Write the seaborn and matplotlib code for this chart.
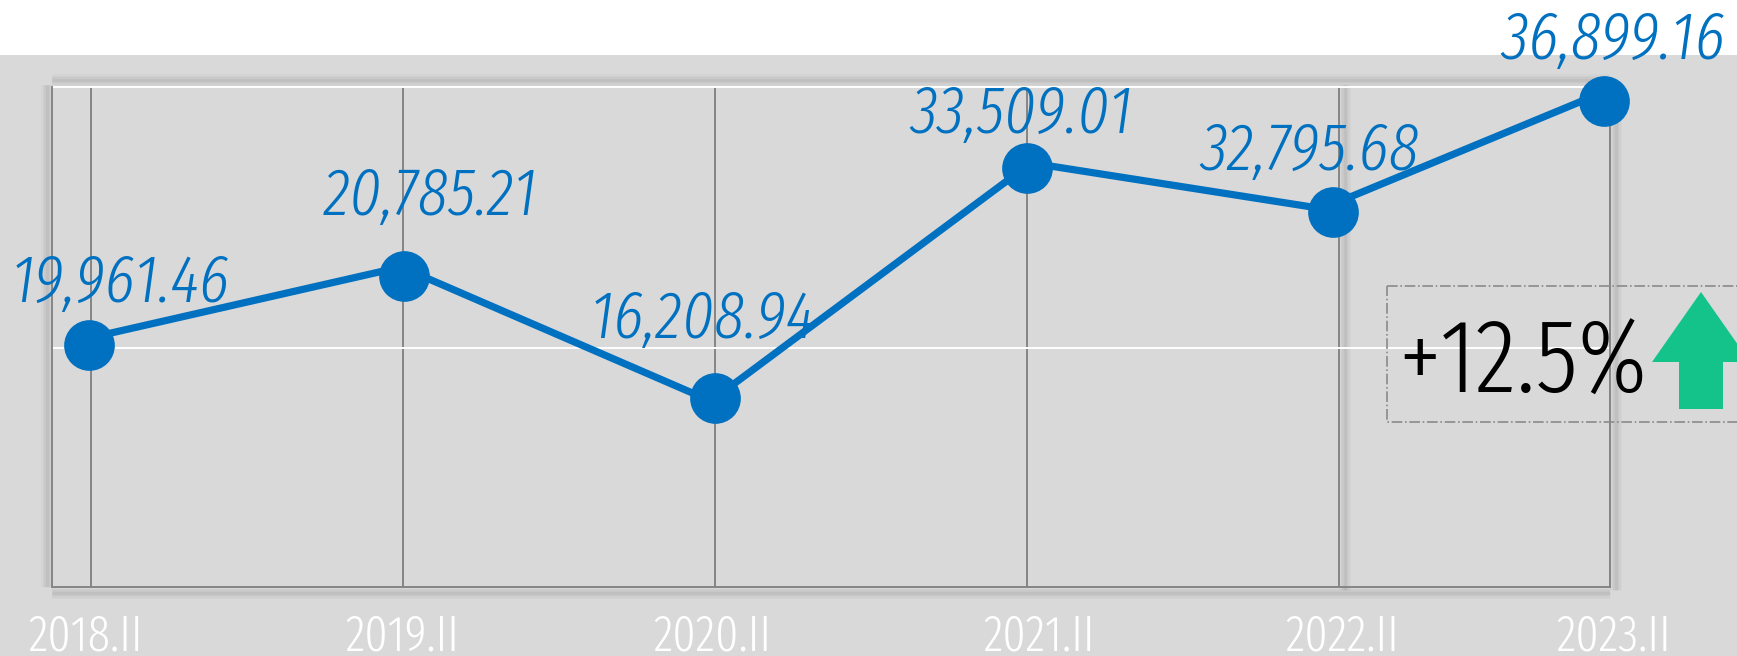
import matplotlib
matplotlib.use("Agg")
import matplotlib.pyplot as plt
from matplotlib.patches import Polygon, Rectangle
from matplotlib.transforms import Affine2D, ScaledTranslation
import seaborn as sns

# periods and the printed values
periods = ["2018.II", "2019.II", "2020.II", "2021.II", "2022.II", "2023.II"]
printed_values = [19961.46, 20785.21, 16208.94, 33509.01, 32795.68, 36899.16]
change_label = "+12.5%"

# the drawn marks do not follow the printed numbers,
# and the line runs a little off the marker centres
marker_pos = [-0.006, 1.003, 2.0, 3.0, 3.98, 4.85]
marker_height = [19360, 24880, 15120, 33520, 30000, 38880]
line_pos = [-0.006, 0.994, 1.987, 3.013, 3.946, 4.846]
line_height = [19920, 25600, 14880, 33920, 30272, 39568]
period_pos = [0, 1, 2, 3, 4, 4.869]
white_lines = [19120, 40000]

W, H = 1737, 656
BG = "#D9D9D9"
BLUE = "#0070C0"
GREEN = "#14C38A"
GRAY = "#858585"

sns.set_theme(style="white")
plt.rcParams["font.family"] = ["Fira Sans Extra Condensed", "Liberation Sans", "DejaVu Sans"]
plt.rcParams["font.weight"] = 300

fig = plt.figure(figsize=(W / 100, H / 100), dpi=100, facecolor="white")
px = Affine2D().scale(1 / W, -1 / H).translate(0, 1) + fig.transFigure

fig.add_artist(Rectangle((0, 55), W, H - 55, transform=px, fc=BG, ec="none", zorder=-5))

ax = fig.add_axes([52 / W, (H - 587) / H, (1610 - 52) / W, 500 / H])
ax.patch.set_alpha(0)

# soft shadows beside the frame
def shadow(x, y):
    for w, a in [(12, 0.02), (9, 0.025), (6, 0.03), (3, 0.035)]:
        fig.add_artist(plt.Line2D(x, y, transform=px, color="black", lw=w * 0.72,
                                  alpha=a, zorder=-4, solid_capstyle="butt"))

shadow([47, 47], [85, 587])
shadow([52, 1610], [80, 80])
shadow([52, 1610], [593, 593])
shadow([1616, 1616], [85, 590])
shadow([1345, 1345], [85, 590])

for s in ["left", "right", "bottom"]:
    ax.spines[s].set_color(GRAY)
    ax.spines[s].set_linewidth(1.4)
ax.spines["top"].set_visible(False)

for x in period_pos:
    ax.axvline(x, color=GRAY, lw=1.4, zorder=1)
for y in white_lines:
    ax.axhline(y, color="white", lw=1.4, zorder=1, clip_on=False)

sns.lineplot(x=line_pos, y=line_height, ax=ax, color=BLUE, linewidth=5.2, sort=False, errorbar=None, zorder=5)
sns.scatterplot(x=marker_pos, y=marker_height, ax=ax, color=BLUE, s=36.5 ** 2, linewidth=0, zorder=6, clip_on=False)

ax.set_xlim(-0.125, 4.869)
ax.set_ylim(0, 40000)
ax.set_yticks([])
ax.set_xticks(period_pos, periods)
ax.tick_params(axis="x", length=0, pad=19, labelsize=36, labelcolor="white")
shifts = [-6, -1, -3, 12, 3, 4]
for lab, dx in zip(ax.get_xticklabels(), shifts):
    lab.set_transform(lab.get_transform() + ScaledTranslation(dx / 100, 0, fig.dpi_scale_trans))

# value labels, offsets in pixels from each marker
offsets = [(32, 43), (27, 61), (-12, 60), (-5, 35), (-23, 42), (9, 42)]
for x, y, v, (dx, dy) in zip(marker_pos, marker_height, printed_values, offsets):
    ax.annotate(f"{v:,.2f}", (x, y), xytext=(dx * 0.72, dy * 0.72), textcoords="offset points",
                ha="center", va="baseline", fontsize=48, style="italic", color=BLUE, zorder=3)

# change box
fig.add_artist(Rectangle((1387, 286), 400, 136, transform=px, fc="none", ec="#8A8A8A",
                         lw=1.2, ls="-.", zorder=6))
fig.text(1398 / W, 1 - 393 / H, change_label, fontsize=75, color="black", ha="left", va="baseline", zorder=7)
fig.add_artist(Polygon([(1701, 292), (1750, 362), (1723, 362), (1723, 409), (1679, 409), (1679, 362), (1652, 362)],
                       closed=True, transform=px, fc=GREEN, ec="none", zorder=7))

fig.savefig("out.png", dpi=100)
